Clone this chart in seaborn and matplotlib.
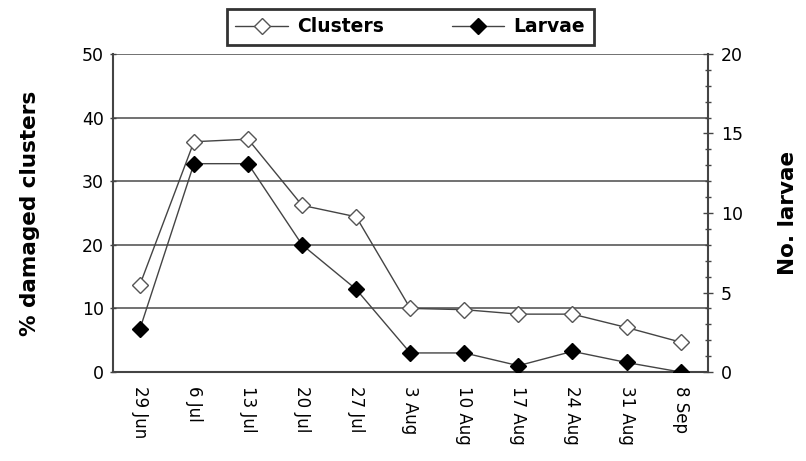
import matplotlib
matplotlib.use("Agg")
import matplotlib.pyplot as plt
import seaborn as sns
import pandas as pd
import numpy as np
from matplotlib.ticker import MultipleLocator

dates = ["29 Jun", "6 Jul", "13 Jul", "20 Jul", "27 Jul", "3 Aug", "10 Aug",
         "17 Aug", "24 Aug", "31 Aug", "8 Sep"]
clusters = [13.7, 36.2, 36.6, 26.2, 24.4, 10.0, 9.8, 9.1, 9.1, 7.0, 4.7]
larvae = [2.7, 13.1, 13.1, 8.0, 5.2, 1.2, 1.2, 0.4, 1.3, 0.6, 0.0]

sns.set_style("white")
plt.rcParams['font.family'] = ['DejaVu Sans']
plt.rcParams['text.color'] = 'black'
plt.rcParams['axes.labelcolor'] = 'black'
plt.rcParams['xtick.color'] = 'black'
plt.rcParams['ytick.color'] = 'black'

df = pd.DataFrame({"pos": np.arange(len(dates)), "date": dates,
                   "clusters": clusters, "larvae": larvae})

fig = plt.figure(figsize=(8.06, 4.61), dpi=100)
ax = fig.add_axes([0.140, 0.193, 0.738, 0.690])
ax2 = ax.twinx()

line_col = "#444444"
sns.lineplot(data=df, x="pos", y="clusters", ax=ax, color=line_col, lw=1.0,
             marker="D", markersize=8.5, markerfacecolor="white",
             markeredgecolor="#555555", markeredgewidth=1.0, label="Clusters",
             legend=False, zorder=4)
sns.lineplot(data=df, x="pos", y="larvae", ax=ax2, color=line_col, lw=1.0,
             marker="D", markersize=8.5, markerfacecolor="black",
             markeredgecolor="black", markeredgewidth=1.0, label="Larvae",
             legend=False, zorder=4)

ax.set_xlim(-0.5, len(dates) - 0.5)
ax.set_ylim(0, 50)
ax2.set_ylim(0, 20)

ax.set_yticks(np.arange(0, 51, 10))
ax.yaxis.grid(True, color="#666666", lw=1.3)
ax.set_axisbelow(True)

ax.set_xticks(np.arange(len(dates)))
ax.set_xticklabels(dates, rotation=-90, va="top", ha="center")
ax.xaxis.set_minor_locator(matplotlib.ticker.FixedLocator(np.arange(-0.5, len(dates), 1.0)))
ax.tick_params(axis="x", which="major", length=0, pad=10, labelsize=12, labelcolor="black")
ax.tick_params(axis="x", which="minor", length=6, width=1, direction="out", color="#444444")

ax.tick_params(axis="y", which="major", length=5, width=1, direction="inout",
               labelsize=12.5, color="#444444", left=True, pad=4, labelcolor="black")
ax2.set_yticks(np.arange(0, 21, 5))
ax2.yaxis.set_minor_locator(MultipleLocator(1))
ax2.tick_params(axis="y", which="major", length=7, width=1, direction="inout",
                labelsize=12.5, color="#444444", right=True, pad=6, labelcolor="black")
ax2.tick_params(axis="y", which="minor", length=5, width=1, direction="inout",
                color="#444444", right=True)

for a in (ax, ax2):
    for s in ["left", "right", "bottom", "top"]:
        a.spines[s].set_visible(False)
ax.spines["left"].set_visible(True)
ax.spines["bottom"].set_visible(True)
ax2.spines["right"].set_visible(True)
for sp in (ax.spines["left"], ax.spines["bottom"], ax2.spines["right"]):
    sp.set_color("#444444")
    sp.set_linewidth(1.5)

ax.set_xlabel("")
ax.set_ylabel("% damaged clusters", fontsize=15.5, fontweight="bold", labelpad=30,
              color="black")
ax2.set_ylabel("No. larvae", fontsize=15.5, fontweight="bold", labelpad=25,
               rotation=90, color="black")

h1, l1 = ax.get_legend_handles_labels()
h2, l2 = ax2.get_legend_handles_labels()
leg = ax.legend(h1 + h2, l1 + l2, loc="lower center", bbox_to_anchor=(0.5, 1.0),
                ncol=2, frameon=True, fancybox=False, edgecolor="black",
                prop={"weight": "bold", "size": 13.5}, handlelength=2.8,
                columnspacing=3.6, borderpad=0.45, handletextpad=0.5)
leg.get_frame().set_linewidth(2)
leg.get_frame().set_edgecolor("black")
for t in leg.get_texts():
    t.set_color("black")

fig.savefig("out.png", dpi=100)
